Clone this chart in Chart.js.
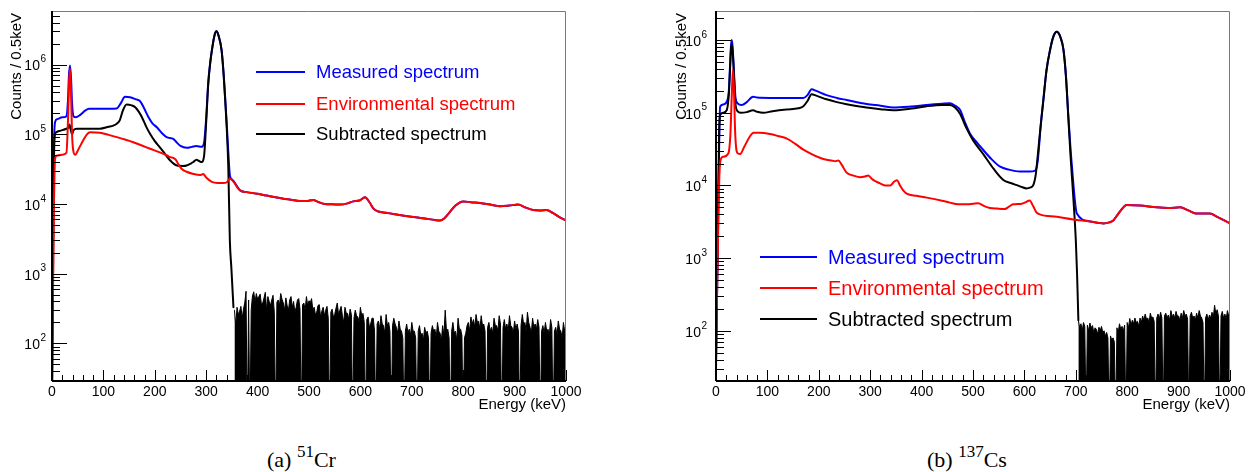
<!DOCTYPE html>
<html>
<head>
<meta charset="utf-8">
<script src="https://cdn.jsdelivr.net/npm/chart.js@4/dist/chart.umd.min.js"></script>
<style>
  html, body { margin: 0; padding: 0; background: #fff; width: 1252px; height: 472px; overflow: hidden; }
  canvas { position: absolute; top: 0; }
  #crCanvas { left: 0; }
  #csCanvas { left: 630px; }
  .caption { position: absolute; top: 449px; font-family: "Liberation Serif", "Times New Roman", serif;
             font-size: 22px; line-height: 22px; color: #000; white-space: nowrap; }
  .caption sup { font-size: 17px; vertical-align: baseline; position: relative; top: -10px; }
</style>
</head>
<body>
<canvas id="crCanvas" width="620" height="430"></canvas>
<canvas id="csCanvas" width="622" height="430"></canvas>
<div class="caption" style="left:267px">(a) <sup>51</sup>Cr</div>
<div class="caption" style="left:927px">(b) <sup>137</sup>Cs</div>

<script>
// ---------- common axis / legend text ----------
const energyTicks = [0, 100, 200, 300, 400, 500, 600, 700, 800, 900, 1000];
const decadeExponents = [2, 3, 4, 5, 6];
const legendLabels = ['Measured spectrum', 'Environmental spectrum', 'Subtracted spectrum'];
const legendColors = ['#0000ff', '#ff0000', '#000000'];
const xTitle = 'Energy (keV)';
const yTitle = 'Counts / 0.5keV';

// ---------- 51Cr source ----------
const crMeasuredKeV = [0, 3, 6, 10, 20, 28, 31, 33, 35, 37, 39, 42, 46, 55, 65, 72, 90, 110, 126, 134, 142, 152, 162, 171, 180, 187, 195, 204, 215, 223, 236, 243, 250, 262, 272, 281, 291, 296, 300, 304, 308, 311, 316, 320, 324, 330, 334, 337, 340, 343, 346, 349, 353, 360, 366,
  379, 400, 418, 435, 450, 465, 482, 495, 508, 518, 531, 545, 560, 575, 586, 598, 609, 618, 626, 635, 650, 664, 685, 703, 725, 745, 755, 763, 771, 785, 800, 815, 833, 852, 872, 890, 907, 920, 936, 950, 962, 975, 990, 1000];
const crMeasuredCounts = [20, 3e4, 1.5e5, 1.65e5, 1.75e5, 1.82e5, 3e5, 7e5, 9.7e5, 6.5e5, 2.8e5, 1.8e5, 1.75e5, 1.9e5, 2.2e5, 2.32e5, 2.32e5, 2.32e5, 2.35e5, 2.8e5, 3.45e5, 3.4e5, 3.2e5, 3.0e5, 2.3e5, 1.8e5, 1.45e5, 1.26e5, 1.02e5, 9.1e4, 8.6e4, 7.6e4, 6.8e4, 6.4e4, 6.6e4, 6.8e4, 6.6e4, 7.7e4, 1.74e5, 5.5e5, 1.1e6, 1.6e6, 2.6e6, 3.0e6, 2.6e6, 1.6e6, 7.2e5, 3.25e5, 1.4e5, 5.6e4, 2.6e4, 2.3e4, 2.15e4, 1.8e4, 1.57e4,
  1.48e4, 1.4e4, 1.32e4, 1.25e4, 1.19e4, 1.15e4, 1.1e4, 1.1e4, 1.14e4, 1.07e4, 1.0e4, 9.9e3, 9.8e3, 1.02e4, 1.09e4, 1.12e4, 1.25e4, 1.05e4, 8.5e3, 7.8e3, 7.5e3, 7.2e3, 6.8e3, 6.5e3, 6.2e3, 5.9e3, 5.8e3, 6.2e3, 7.2e3, 9.5e3, 1.09e4, 1.06e4, 1.03e4, 9.8e3, 9.3e3, 9.5e3, 9.8e3, 9.0e3, 8.2e3, 8.1e3, 8.2e3, 7.4e3, 6.3e3, 5.8e3];

const crEnvKeV = [0, 2, 4, 6, 10, 20, 28, 31, 33, 35, 37, 39, 42, 45, 52, 60, 68, 74, 93, 110, 126, 142, 158, 175, 191, 207, 223, 230, 236, 241, 246, 252, 262, 275, 288, 294, 300, 311, 322, 333, 340, 346, 353, 360, 366,
  379, 400, 418, 435, 450, 465, 482, 495, 508, 518, 531, 545, 560, 575, 586, 598, 609, 618, 626, 635, 650, 664, 685, 703, 725, 745, 755, 763, 771, 785, 800, 815, 833, 852, 872, 890, 907, 920, 936, 950, 962, 975, 990, 1000];
const crEnvCounts = [60, 600, 1.2e4, 4.5e4, 4.96e4, 5.1e4, 5.4e4, 1.5e5, 5e5, 8.7e5, 4e5, 1.0e5, 5.5e4, 5.1e4, 6.2e4, 8e4, 1.0e5, 1.07e5, 1.05e5, 9.8e4, 9.1e4, 8.4e4, 7.7e4, 6.9e4, 6.2e4, 5.6e4, 5.0e4, 4.7e4, 4.6e4, 4.3e4, 3.7e4, 3.2e4, 2.9e4, 2.7e4, 2.6e4, 2.7e4, 2.4e4, 2.07e4, 2.0e4, 2.0e4, 2.05e4, 2.3e4, 2.1e4, 1.75e4, 1.56e4,
  1.48e4, 1.4e4, 1.32e4, 1.25e4, 1.19e4, 1.15e4, 1.1e4, 1.1e4, 1.14e4, 1.07e4, 1.0e4, 9.9e3, 9.8e3, 1.02e4, 1.09e4, 1.12e4, 1.25e4, 1.05e4, 8.5e3, 7.8e3, 7.5e3, 7.2e3, 6.8e3, 6.5e3, 6.2e3, 5.9e3, 5.8e3, 6.2e3, 7.2e3, 9.5e3, 1.09e4, 1.06e4, 1.03e4, 9.8e3, 9.3e3, 9.5e3, 9.8e3, 9.0e3, 8.2e3, 8.1e3, 8.2e3, 7.4e3, 6.3e3, 5.8e3];

const crSubKeV = [0, 2, 4, 6, 9, 15, 28, 32, 34, 36, 39, 42, 48, 60, 93, 110, 119, 126, 132, 138, 145, 155, 162, 169, 175, 183, 191, 200, 210, 220, 230, 243, 255, 262, 270, 275, 281, 287, 291, 296, 300, 304, 308, 311, 316, 320, 324, 330, 334, 337, 340, 343, 346, 349, 353];
const crSubCounts = [10, 1000, 5e4, 1.0e5, 1.08e5, 1.12e5, 1.2e5, 1.25e5, 1.38e5, 1.2e5, 1.0e5, 1.15e5, 1.2e5, 1.2e5, 1.2e5, 1.28e5, 1.33e5, 1.42e5, 1.6e5, 2.2e5, 2.67e5, 2.6e5, 2.45e5, 2.1e5, 1.76e5, 1.3e5, 1.01e5, 8.0e4, 6.5e4, 5.2e4, 4.2e4, 3.56e4, 3.5e4, 3.56e4, 3.8e4, 4.0e4, 4.3e4, 4.1e4, 4.0e4, 5e4, 1.5e5, 5.3e5, 1.08e6, 1.59e6, 2.6e6, 3.0e6, 2.6e6, 1.59e6, 7e5, 3.05e5, 1.2e5, 3.4e4, 3000, 1200, 330];

// residual of the subtraction above the 51Cr line, 2.5 keV bins from 355 keV
const crResidualStart = 355, crResidualBin = 2.5;
const crResidualCounts = [
  300, 180, 330, 260, 290, 340, 230, 310, 380, 560, 5, 420, 5, 300, 480, 550, 390, 520, 430, 470,
  510, 360, 380, 450, 540, 300, 470, 400, 350, 420, 490, 280, 5, 390, 420, 350, 520, 430, 380, 300,
  450, 350, 300, 420, 470, 330, 400, 280, 330, 420, 440, 310, 5, 360, 380, 300, 470, 350, 410, 380,
  440, 300, 330, 260, 280, 350, 360, 240, 290, 330, 250, 300, 340, 230, 5, 280, 310, 240, 260, 320,
  380, 260, 300, 340, 250, 200, 330, 270, 270, 220, 310, 260, 5, 230, 300, 250, 240, 200, 330, 250,
  270, 200, 5, 220, 240, 170, 190, 230, 230, 150, 5, 190, 210, 160, 250, 190, 180, 140, 260, 180,
  200, 150, 5, 180, 230, 190, 170, 140, 210, 160, 150, 120, 5, 150, 190, 140, 160, 130, 200, 150,
  150, 120, 5, 150, 180, 130, 140, 110, 170, 140, 150, 120, 5, 140, 180, 150, 160, 120, 200, 150,
  140, 110, 180, 130, 300, 150, 160, 120, 5, 150, 200, 140, 150, 110, 230, 160, 160, 130, 5, 120,
  140, 180, 200, 150, 240, 190, 220, 170, 260, 200, 210, 160, 250, 180, 190, 150, 5, 170, 200, 150,
  170, 140, 230, 180, 180, 150, 250, 190, 5, 170, 220, 160, 190, 150, 250, 180, 170, 140, 210, 160,
  190, 150, 5, 180, 260, 190, 200, 150, 280, 200, 170, 140, 230, 170, 190, 160, 220, 170, 5, 150,
  180, 140, 200, 150, 160, 130, 220, 170, 5, 150, 170, 130, 210, 160, 150, 120, 200, 150, 180];

// ---------- 137Cs source ----------
const csMeasuredKeV = [0, 2, 4, 6, 8, 14, 21, 25, 27, 29, 30.5, 32, 34, 36, 38, 42, 50, 60, 72, 80, 105, 140, 170, 178, 186, 195, 215, 235, 254, 293, 320, 345, 380, 410, 440, 455, 465, 475, 484, 494, 505, 520, 536, 553, 570, 591, 610, 621, 626, 632, 637, 643, 650, 656, 663, 670, 676, 681, 685.5, 690, 695.5, 699, 702,
  728, 745, 754, 765, 773, 785, 799, 825, 857, 880, 903, 920, 935, 961, 975, 1000];
const csMeasuredCounts = [30, 300, 2.2e3, 3e4, 1.21e5, 1.3e5, 1.42e5, 2e5, 4e5, 8e5, 1.0e6, 8.5e5, 5e5, 2.6e5, 1.6e5, 1.35e5, 1.28e5, 1.4e5, 1.66e5, 1.62e5, 1.6e5, 1.6e5, 1.6e5, 1.75e5, 2.1e5, 2.0e5, 1.75e5, 1.6e5, 1.5e5, 1.32e5, 1.25e5, 1.18e5, 1.22e5, 1.28e5, 1.33e5, 1.35e5, 1.25e5, 1.09e5, 7.5e4, 5.2e4, 4.1e4, 3.07e4, 2.3e4, 1.81e4, 1.65e4, 1.55e4, 1.55e4, 1.6e4, 2.2e4, 7e4, 1.55e5, 3.9e5, 7.4e5, 1.1e6, 1.3e6, 1.1e6, 7.4e5, 3.1e5, 8.9e4, 3.0e4, 1.0e4, 5.5e3, 4.1e3,
  3.2e3, 3.05e3, 3.0e3, 3.1e3, 3.3e3, 4.3e3, 5.4e3, 5.3e3, 5.0e3, 4.9e3, 5.0e3, 4.5e3, 4.1e3, 4.1e3, 3.7e3, 3.0e3];

const csEnvKeV = [0, 2, 4.5, 7, 10, 14, 24, 28, 31, 33, 35, 37, 40, 43, 47, 55, 65, 73, 85, 105, 120, 138, 155, 170, 186, 202, 215, 225, 232, 238, 245, 254, 265, 280, 290, 296, 305, 319, 330, 339, 345, 352, 358, 365, 371, 390, 410, 442, 455, 471, 488, 500, 510, 522, 533, 548, 562, 570, 578, 595, 603, 610, 617, 623, 630, 663, 695, 702,
  728, 745, 754, 765, 773, 785, 799, 825, 857, 880, 903, 920, 935, 961, 975, 1000];
const csEnvCounts = [42, 300, 3.3e3, 1.6e4, 2.35e4, 2.48e4, 2.75e4, 5e4, 2e5, 3.9e5, 2e5, 6e4, 3e4, 2.75e4, 2.7e4, 3.4e4, 4.6e4, 5.3e4, 5.3e4, 5.1e4, 4.8e4, 4.4e4, 3.7e4, 3.1e4, 2.7e4, 2.4e4, 2.25e4, 2.2e4, 2.15e4, 2.2e4, 1.9e4, 1.5e4, 1.38e4, 1.3e4, 1.33e4, 1.37e4, 1.2e4, 1.07e4, 1.0e4, 1.0e4, 1.1e4, 1.18e4, 1.0e4, 8.4e3, 7.7e3, 7.2e3, 6.8e3, 6.1e3, 5.8e3, 5.5e3, 5.5e3, 5.6e3, 5.7e3, 5.2e3, 4.9e3, 4.8e3, 4.75e3, 5.1e3, 5.5e3, 5.6e3, 5.9e3, 6.2e3, 5.2e3, 4.3e3, 4.0e3, 3.7e3, 3.4e3, 3.35e3,
  3.2e3, 3.05e3, 3.0e3, 3.1e3, 3.3e3, 4.3e3, 5.4e3, 5.3e3, 5.0e3, 4.9e3, 5.0e3, 4.5e3, 4.1e3, 4.1e3, 3.7e3, 3.0e3];

const csSubKeV = [0, 2, 4, 6, 8, 14, 21, 25, 27, 29, 30.5, 32, 34, 36, 38, 42, 48, 60, 72, 80, 92, 110, 137, 160, 170, 178, 186, 195, 215, 235, 254, 293, 320, 345, 380, 410, 440, 455, 465, 475, 487, 500, 520, 540, 559, 575, 585, 595, 604, 612, 617, 622, 627, 632, 637, 643, 650, 656, 663, 670, 676, 681, 685.5, 690, 695.5, 700, 702.5, 705];
const csSubCounts = [40, 500, 5e3, 5e4, 9.3e4, 1.0e5, 1.09e5, 1.8e5, 3.5e5, 7e5, 9.0e5, 7.5e5, 4.5e5, 2.2e5, 1.3e5, 1.05e5, 1.0e5, 1.02e5, 1.08e5, 1.03e5, 1.0e5, 1.05e5, 1.11e5, 1.15e5, 1.23e5, 1.45e5, 1.8e5, 1.72e5, 1.53e5, 1.4e5, 1.31e5, 1.18e5, 1.12e5, 1.08e5, 1.14e5, 1.23e5, 1.28e5, 1.28e5, 1.18e5, 9.6e4, 6.2e4, 4.2e4, 2.7e4, 1.7e4, 1.19e4, 1.07e4, 1.01e4, 9.5e3, 9.1e3, 9.4e3, 1.0e4, 1.4e4, 3.07e4, 7e4, 1.5e5, 3.8e5, 7.3e5, 1.1e6, 1.3e6, 1.1e6, 7.3e5, 3e5, 8.5e4, 2.4e4, 6.3e3, 1.78e3, 600, 140];

// residual of the subtraction above the 137Cs line, 2.5 keV bins from 705 keV
const csResidualStart = 705, csResidualBin = 2.5;
const csResidualCounts = [
  140, 110, 125, 100, 130, 115, 5, 120, 100, 128, 110, 118, 95, 110, 105, 90, 112, 100, 115, 95,
  100, 85, 95, 80, 5, 85, 75, 80, 70, 5, 110, 95, 125, 105, 115, 100, 120, 5, 130, 110,
  148, 120, 140, 125, 150, 130, 135, 115, 150, 130, 160, 140, 170, 145, 150, 130, 175, 150, 155, 135,
  5, 150, 170, 145, 180, 150, 5, 160, 175, 150, 165, 140, 190, 155, 170, 150, 185, 160, 160, 140,
  175, 150, 190, 160, 170, 145, 5, 160, 180, 150, 160, 140, 175, 150, 190, 160, 150, 130, 5, 150,
  170, 140, 165, 150, 180, 150, 225, 170, 195, 160, 5, 160, 185, 150, 170, 145, 190, 160, 175];

// ---------- helpers ----------
const pts = (xs, ys) => xs.map((x, i) => ({ x, y: ys[i] }));
const binned = (start, width, ys) => ys.map((y, i) => ({ x: start + i * width, y }));
const SANS = '"Liberation Sans", Arial, Helvetica, sans-serif';

// ROOT-style frame: ticks inside the pad, superscript decade labels, titles and legend box
const spectrumFrame = {
  id: 'spectrumFrame',
  afterDatasetsDraw(chart, args, o) {
    const { ctx, chartArea: a } = chart;
    const xs = chart.scales.x, ys = chart.scales.y;
    ctx.save();

    // thin grey pad frame (top, right)
    ctx.strokeStyle = '#7a7a7a';
    ctx.lineWidth = 1;
    ctx.beginPath();
    ctx.moveTo(a.left, a.top + 0.5);
    ctx.lineTo(a.right - 0.5, a.top + 0.5);
    ctx.lineTo(a.right - 0.5, a.bottom);
    ctx.stroke();

    // axes lines
    ctx.strokeStyle = '#000';
    ctx.lineWidth = 2;
    ctx.beginPath();
    ctx.moveTo(a.left, a.bottom);
    ctx.lineTo(a.right, a.bottom);
    ctx.moveTo(a.left, a.top);
    ctx.lineTo(a.left, a.bottom);
    ctx.stroke();

    // x ticks: major every 100 keV, minor every 20 keV
    ctx.lineWidth = 1;
    ctx.beginPath();
    for (let i = 0; i < energyTicks.length; i++) {
      const e0 = energyTicks[i];
      const px = Math.round(xs.getPixelForValue(e0)) + 0.5;
      ctx.moveTo(px, a.bottom);
      ctx.lineTo(px, a.bottom - 11);
      if (i < energyTicks.length - 1) {
        const step = (energyTicks[i + 1] - e0) / 5;
        for (let k = 1; k < 5; k++) {
          const pm = Math.round(xs.getPixelForValue(e0 + k * step)) + 0.5;
          ctx.moveTo(pm, a.bottom);
          ctx.lineTo(pm, a.bottom - 6);
        }
      }
    }
    // y ticks: decades and 2..9 subdivisions
    const lo = Math.floor(Math.log10(ys.min)), hi = Math.ceil(Math.log10(ys.max));
    for (let n = lo; n <= hi; n++) {
      for (let k = 1; k <= 9; k++) {
        const v = k * Math.pow(10, n);
        if (v < ys.min || v > ys.max) continue;
        const py = Math.round(ys.getPixelForValue(v)) + 0.5;
        ctx.moveTo(a.left, py);
        ctx.lineTo(a.left + (k === 1 ? 15 : 8), py);
      }
    }
    ctx.stroke();

    ctx.fillStyle = '#000';
    // x tick labels
    ctx.font = '14px ' + SANS;
    ctx.textAlign = 'center';
    ctx.textBaseline = 'middle';
    energyTicks.forEach(e => ctx.fillText(String(e), xs.getPixelForValue(e), a.bottom + 11));
    // x title
    ctx.font = '15px ' + SANS;
    ctx.textAlign = 'right';
    ctx.fillText(xTitle, a.right, a.bottom + 24);

    // y decade labels: "10" with superscript exponent
    decadeExponents.forEach(n => {
      const py = ys.getPixelForValue(Math.pow(10, n));
      const sup = String(n);
      ctx.font = '10px ' + SANS;
      const sw = ctx.measureText(sup).width;
      const right = a.left - o.labelGap;
      ctx.textAlign = 'right';
      ctx.fillText(sup, right, py - 5);
      ctx.font = '14px ' + SANS;
      ctx.fillText('10', right - sw - 0.5, py + 2);
    });

    // y title, rotated, aligned to the top of the frame
    ctx.save();
    ctx.translate(o.titleX, a.top + 2);
    ctx.rotate(-Math.PI / 2);
    ctx.font = '15px ' + SANS;
    ctx.textAlign = 'right';
    ctx.textBaseline = 'middle';
    ctx.fillText(yTitle, 0, 0);
    ctx.restore();

    // legend
    ctx.font = o.legendFont + 'px ' + SANS;
    ctx.textAlign = 'left';
    ctx.textBaseline = 'middle';
    legendLabels.forEach((label, i) => {
      const y = o.legendY[i];
      ctx.strokeStyle = legendColors[i];
      ctx.lineWidth = 2;
      ctx.beginPath();
      ctx.moveTo(o.legendX0, y);
      ctx.lineTo(o.legendX1, y);
      ctx.stroke();
      ctx.fillStyle = legendColors[i];
      ctx.fillText(label, o.legendTextX, y + 1);
    });

    ctx.restore();
  }
};

function spectrumChart(canvasId, c) {
  const curve = (data, color, order) => ({
    data, borderColor: color, backgroundColor: color, borderWidth: 2, order,
    cubicInterpolationMode: 'monotone', fill: false
  });
  return new Chart(document.getElementById(canvasId), {
    type: 'line',
    data: {
      datasets: [
        curve(pts(c.envKeV, c.envCounts), legendColors[1], 1),
        curve(pts(c.subKeV, c.subCounts), legendColors[2], 2),
        { data: binned(c.resStart, c.resBin, c.resCounts), borderColor: '#000', backgroundColor: '#000',
          borderWidth: 1, tension: 0, fill: 'start', order: 3 },
        curve(pts(c.measKeV, c.measCounts), legendColors[0], 4)
      ]
    },
    options: {
      responsive: false,
      animation: false,
      devicePixelRatio: 1,
      elements: { point: { radius: 0, hoverRadius: 0 }, line: { borderJoinStyle: 'round', borderCapStyle: 'round' } },
      layout: { padding: { left: 0, right: c.padRight, top: 11, bottom: 0 } },
      scales: {
        x: {
          type: 'linear', min: 0, max: 1000,
          grid: { display: false }, border: { display: false }, ticks: { display: false },
          afterFit(s) { s.height = 49; }
        },
        y: {
          type: 'logarithmic', min: c.yMin, max: c.yMax,
          grid: { display: false }, border: { display: false }, ticks: { display: false },
          afterFit(s) { s.width = c.yAxisWidth; }
        }
      },
      plugins: {
        legend: { display: false },
        tooltip: { enabled: false },
        spectrumFrame: c.frame
      }
    },
    plugins: [spectrumFrame]
  });
}

spectrumChart('crCanvas', {
  measKeV: crMeasuredKeV, measCounts: crMeasuredCounts,
  envKeV: crEnvKeV, envCounts: crEnvCounts,
  subKeV: crSubKeV, subCounts: crSubCounts,
  resStart: crResidualStart, resBin: crResidualBin, resCounts: crResidualCounts,
  yMin: 28.9, yMax: 5.87e6, yAxisWidth: 52, padRight: 54,
  frame: { labelGap: 6, titleX: 17, legendX0: 256, legendX1: 305, legendTextX: 316, legendY: [72, 104, 134], legendFont: 18.5 }
});

spectrumChart('csCanvas', {
  measKeV: csMeasuredKeV, measCounts: csMeasuredCounts,
  envKeV: csEnvKeV, envCounts: csEnvCounts,
  subKeV: csSubKeV, subCounts: csSubCounts,
  resStart: csResidualStart, resBin: csResidualBin, resCounts: csResidualCounts,
  yMin: 20.4, yMax: 2.51e6, yAxisWidth: 86, padRight: 22,
  frame: { labelGap: 9, titleX: 51.5, legendX0: 130, legendX1: 187, legendTextX: 198, legendY: [257, 288, 319], legendFont: 20 }
});
</script>
</body>
</html>
